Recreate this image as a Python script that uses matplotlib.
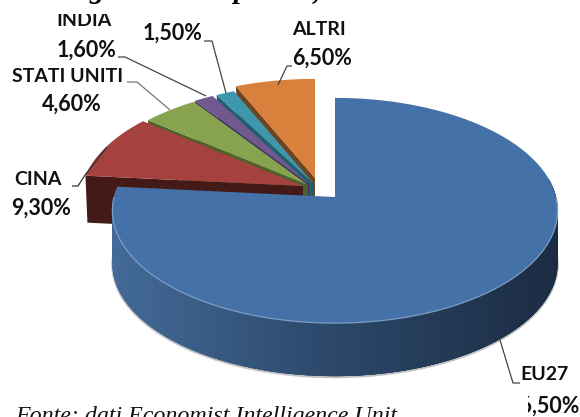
import numpy as np
import matplotlib
matplotlib.use("Agg")
import matplotlib.pyplot as plt
from matplotlib.patches import Polygon, Rectangle
from matplotlib.colors import to_rgb

# data
names = ["EU27", "CINA", "STATI UNITI", "INDIA", "", "ALTRI"]
shares = [76.5, 9.3, 4.6, 1.6, 1.5, 6.5]
value_labels = ["76,50%", "9,30%", "4,60%", "1,60%", "1,50%", "6,50%"]

# style / layout
top_cols = ["#4472a8", "#a5423f", "#87a34f", "#71588f", "#3f97ae", "#d9803c"]
cut_cols = ["#2a4568", "#431a17", "#4e6127", "#3e2f5a", "#1e5f70", "#6e451f"]
apex = [(335, 197), (303, 186), (308, 185), (309, 184), (313, 183), (315, 178)]
RX, RY, K, DEPTH, CUT_DEPTH = 221, 111, 0.12, 53, 47

fig = plt.figure(figsize=(5.8, 4.17), dpi=100, facecolor="white")
ax = fig.add_axes([0, 0, 1, 1])
ax.set_xlim(0, 580)
ax.set_ylim(417, 0)
ax.axis("off")


def rim(theta, a):
    u, v = np.sin(theta), np.cos(theta)
    d = 1 + K * v
    return a[0] + RX * u / d, a[1] - RY * v / d


edges = np.cumsum([0] + shares) / 100 * 2 * np.pi  # clockwise from 12 o'clock
z = 2
# back slices first, EU27 last
for i in [5, 4, 3, 2, 1, 0]:
    a = apex[i]
    t0, t1 = edges[i], edges[i + 1]
    ts = np.linspace(t0, t1, 240)
    x, y = rim(ts, a)
    if i == 0:
        # gradient outer wall
        c_l, c_m, c_r = map(np.array, map(to_rgb, ["#436a98", "#2b4769", "#1b2b42"]))
        fx = np.linspace(t1, t0, 700)  # from the left side round to the right
        xx, yy = rim(fx, a)
        # soft shadow under the wall
        mask = np.cos(fx) < 0.15
        ax.plot(xx[mask], yy[mask] + DEPTH + 1, color="#9a9a9a", lw=1.6, alpha=.6, zorder=z)
        z += 1
        for j in range(len(fx) - 4):
            if np.cos(fx[j]) > 0.15:
                continue
            s = np.clip((xx[j] - 112) / 446, 0, 1)
            c = c_l + (c_m - c_l) * s / .5 if s < .5 else c_m + (c_r - c_m) * (s - .5) / .5
            ax.add_patch(Polygon([(xx[j], yy[j]), (xx[j + 4], yy[j + 4]),
                                  (xx[j + 4], yy[j + 4] + DEPTH), (xx[j], yy[j] + DEPTH)],
                                 closed=True, fc=c, ec="none", zorder=z))
        z += 1
    else:
        # cut face along the left radial edge
        ex, ey = x[0], y[0]
        ax.add_patch(Polygon([(ex, ey), (ex + 2, ey + CUT_DEPTH), (a[0], a[1] + CUT_DEPTH), a],
                             closed=True, fc=cut_cols[i], ec="none", zorder=z))
        z += 1
    pts = np.column_stack([np.r_[a[0], x], np.r_[a[1], y]])
    ax.add_patch(Polygon(pts, closed=True, fc=top_cols[i], ec="none", zorder=z))
    z += 1
    if i == 0:
        m = np.cos(ts) < 0.0
        ax.plot(x[m], y[m], color="#7c9cc2", lw=.9, zorder=z)
        z += 1

name_lab = dict(fontfamily="Lato", fontweight="bold", fontsize=14, color="#111111",
                ha="center", va="center", zorder=50)
val_lab = {**name_lab, "fontsize": 15.5}
ax.text(319, 29, names[5], **name_lab)
ax.text(322, 58, value_labels[5], **val_lab)
ax.text(173, 33, value_labels[4], **val_lab)
t = ax.text(84, 20, names[3], clip_on=True, **name_lab)
t.set_clip_path(Rectangle((0, 14), 580, 30, transform=ax.transData))
ax.text(87, 50, value_labels[3], **val_lab)
ax.text(68, 76, names[2], **name_lab)
ax.text(72, 104, value_labels[2], **val_lab)
ax.text(38, 179, names[1], **name_lab)
ax.text(41, 208, value_labels[1], **val_lab)
ax.text(545, 375, names[0], **name_lab)
t = ax.text(579, 406, value_labels[0], clip_on=True, **{**val_lab, "ha": "right"})
t.set_clip_path(Rectangle((528, 390), 52, 27, transform=ax.transData))

leaders = [
    ([278, 287, 292], [85, 66, 66], "#444444"),
    ([226, 212, 204], [93, 41, 41], "#444444"),
    ([206, 125, 118], [96, 57, 57], "#444444"),
    ([170, 137, 127], [110, 82, 82], "#777777"),
    ([107, 85, 78, 72], [147, 175, 186, 186], "#333333"),
    ([500, 513, 520], [340, 383, 383], "#444444"),
]
for lx, ly, c in leaders:
    ax.plot(lx, ly, color=c, lw=.9, zorder=40, solid_capstyle="butt")

# cropped text at the image edges
serif = dict(fontfamily="Liberation Serif", fontsize=17.3, style="italic", color="#111111", zorder=50)
ax.text(15, 422, "Fonte: dati Economist Intelligence Unit", va="baseline", ha="left", **serif)
head = dict(fontfamily="Liberation Serif", fontsize=21, style="italic", fontweight="bold",
            color="black", va="baseline", ha="center", zorder=50)
ax.text(97, -2, "g", **head)
ax.text(240, -2, "p", **head)
ax.text(316, -2, ",", **head)

fig.savefig("out.png", dpi=100)
